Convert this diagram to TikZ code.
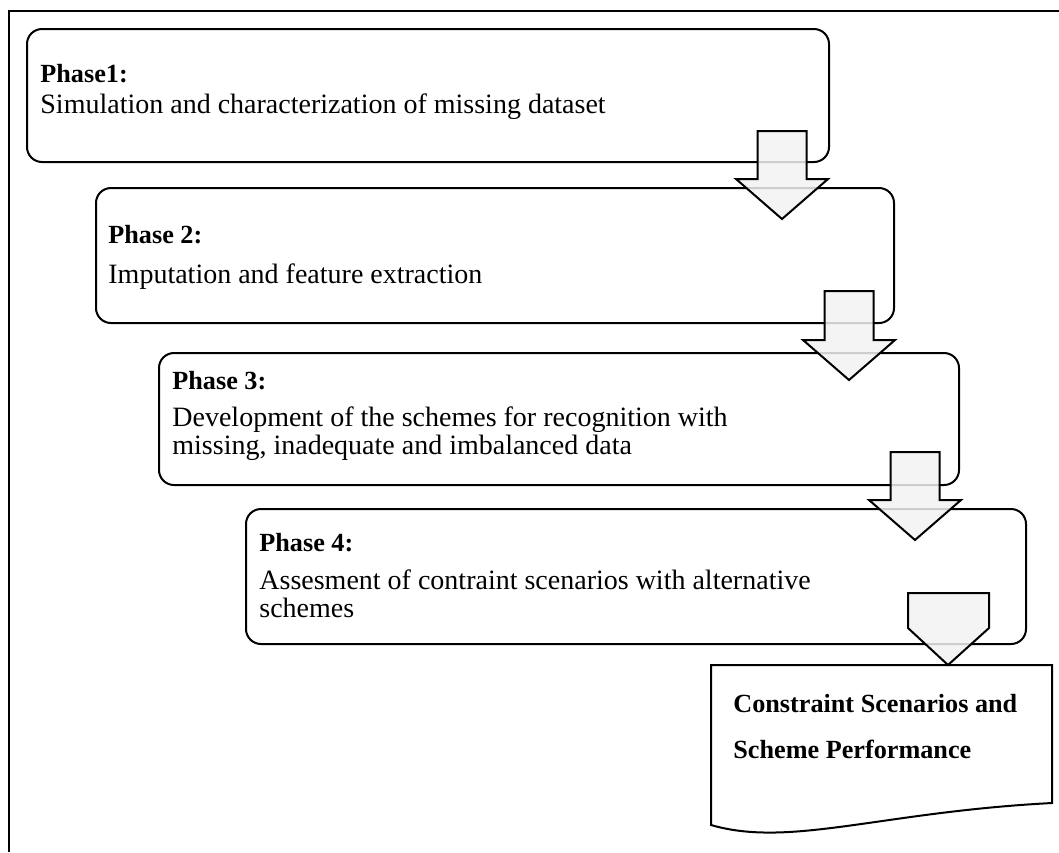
\documentclass[tikz,border=0pt]{standalone}
\usepackage{fontspec}
\setmainfont{Liberation Serif}
\usetikzlibrary{positioning}

\tikzset{
  frameline/.style={line width=1.3pt,black},
  phasebox/.style={draw,line width=1pt,rounded corners=7.5pt,anchor=north west,inner sep=0pt},
  phasetitle/.style={anchor=base west,inner sep=0pt,font=\fontsize{13.1}{15}\selectfont\bfseries},
  phasetext/.style={anchor=base west,inner sep=0pt,align=left,font=\fontsize{14}{14}\selectfont},
  blockarrow/.style={draw,line width=1pt,fill=gray!10,fill opacity=0.85,line join=miter},
  doctext/.style={anchor=base west,inner sep=0pt,font=\fontsize{13.1}{15}\selectfont\bfseries}
}

% down arrow: centre x, top y, tip y
\newcommand{\phasearrow}[3]{%
  \draw[blockarrow] (#1-24.5,#2) -- (#1+24.5,#2) -- (#1+24.5,#3-40) -- (#1+46,#3-40)
    -- (#1,#3) -- (#1-46,#3-40) -- (#1-24.5,#3-40) -- cycle;}

\begin{document}
\begin{tikzpicture}[x=0.5pt,y=-0.5pt]
  \useasboundingbox (0,0) rectangle (1059,852);
  \draw[frameline] (9,852) -- (9,11) -- (1059,11);

  % phase boxes
  \node[phasebox,minimum width=401pt,minimum height=66.5pt] (p1) at (26,28) {};
  \node[phasebox,minimum width=399pt,minimum height=67.5pt] (p2) at (95,187) {};
  \node[phasebox,minimum width=400pt,minimum height=66pt] (p3) at (158,352) {};
  \node[phasebox,minimum width=390pt,minimum height=67.5pt] (p4) at (245,508) {};

  \node[phasetitle] (t1) at (40,82) {Phase1:};
  \node[phasetext] (d1) at (40,113) {Simulation and characterization of missing dataset};
  \node[phasetitle] (t2) at (108,243) {Phase 2:};
  \node[phasetext] (d2) at (108,283) {Imputation and feature extraction};
  \node[phasetitle] (t3) at (172,389) {Phase 3:};
  \node[phasetext] (d3) at (172,454) {Development of the schemes for recognition with\\missing, inadequate and imbalanced data};
  \node[phasetitle] (t4) at (259,551) {Phase 4:};
  \node[phasetext] (d4) at (259,617) {Assesment of contraint scenarios with alternative\\schemes};

  % output document
  \coordinate (docnw) at (711,665);
  \coordinate (docne) at (1052,665);
  \draw[line width=1pt] (docnw) -- (docne) -- (1052,803)
    .. controls (880,812) and (790,848) .. (711,825) -- cycle;
  \node[doctext] (o1) at (733,712) {Constraint Scenarios and};
  \node[doctext] (o2) at (733,758) {Scheme Performance};

  % arrows between phases
  \phasearrow{782}{131}{219}
  \phasearrow{849}{291}{380}
  \phasearrow{915}{452}{540}
  \draw[blockarrow] (908,593) -- (989,593) -- (989,628) -- (948,665) -- (908,628) -- cycle;
\end{tikzpicture}
\end{document}
